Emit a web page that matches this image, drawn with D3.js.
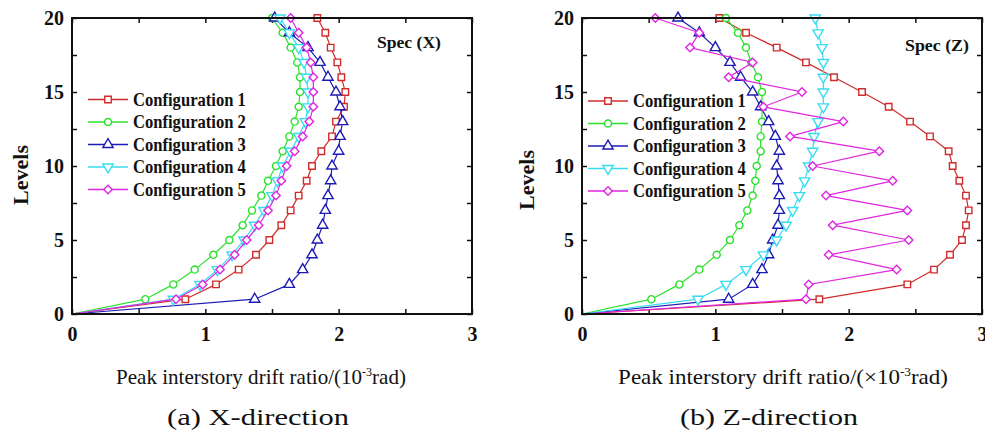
<!DOCTYPE html>
<html>
<head>
<meta charset="utf-8">
<script src="https://cdn.jsdelivr.net/npm/d3@7"></script>
<style>
  body { margin: 0; background: #fff; }
  svg  { display: block; font-family: "Liberation Serif", "Times New Roman", serif; }
</style>
</head>
<body>
<svg id="chart" width="985" height="436"></svg>
<script>
document.addEventListener("DOMContentLoaded", () => {
  "use strict";

  const LEVELS  = [0,1,2,3,4,5,6,7,8,9,10,11,12,13,14,15,16,17,18,19,20];
  const CONFIGS = ["Configuration 1","Configuration 2","Configuration 3","Configuration 4","Configuration 5"];
  const COLORS  = ["#d02c2c","#2ee02e","#1c1cb4","#38dcef","#e026e0"];
  const SHAPES  = ["square","circle","triangle","triangleDown","diamond"];

  // (a) X-direction, drift ratio per level
  const X_CONF1 = [0,0.85,1.08,1.25,1.38,1.48,1.57,1.64,1.70,1.76,1.80,1.87,1.95,1.98,2.04,2.05,2.02,1.99,1.94,1.90,1.84];
  const X_CONF2 = [0,0.55,0.76,0.92,1.06,1.18,1.28,1.35,1.42,1.47,1.53,1.58,1.63,1.67,1.70,1.71,1.71,1.69,1.64,1.58,1.50];
  const X_CONF3 = [0,1.37,1.63,1.73,1.80,1.84,1.88,1.90,1.92,1.94,1.95,2.00,2.01,2.03,2.01,1.98,1.92,1.86,1.77,1.63,1.52];
  const X_CONF4 = [0,0.76,0.96,1.09,1.20,1.29,1.37,1.44,1.50,1.54,1.58,1.64,1.70,1.75,1.77,1.77,1.76,1.74,1.70,1.63,1.56];
  const X_CONF5 = [0,0.78,0.98,1.11,1.22,1.31,1.40,1.47,1.53,1.57,1.61,1.67,1.73,1.78,1.81,1.81,1.81,1.79,1.76,1.70,1.64];

  // (b) Z-direction
  const Z_CONF1 = [0,1.78,2.44,2.64,2.76,2.85,2.88,2.90,2.88,2.83,2.78,2.75,2.61,2.46,2.30,2.10,1.89,1.68,1.46,1.23,1.03];
  const Z_CONF2 = [0,0.52,0.73,0.88,1.01,1.11,1.18,1.24,1.28,1.30,1.31,1.34,1.34,1.35,1.35,1.35,1.32,1.27,1.23,1.17,1.08];
  const Z_CONF3 = [0,1.10,1.28,1.35,1.40,1.43,1.47,1.48,1.48,1.47,1.46,1.48,1.45,1.40,1.34,1.28,1.19,1.11,1.00,0.88,0.72];
  const Z_CONF4 = [0,0.87,1.08,1.23,1.36,1.46,1.53,1.58,1.63,1.67,1.70,1.73,1.74,1.77,1.81,1.81,1.81,1.81,1.80,1.77,1.75];
  const Z_CONF5 = [0,1.68,1.70,2.36,1.85,2.45,1.88,2.44,1.83,2.33,1.73,2.23,1.56,1.96,1.36,1.65,1.10,1.28,0.81,0.88,0.55];

  const X_LABEL_TICKS = [0,1,2,3];
  const X_MARK_TICKS  = [0,0.5,1,1.5,2,2.5,3];
  const Y_LABEL_TICKS = [0,5,10,15,20];
  const Y_MARK_TICKS  = [0,2.5,5,7.5,10,12.5,15,17.5,20];

  const svg = d3.select("#chart");
  svg.append("rect").attr("width", 985).attr("height", 436).attr("fill", "#fff");

  const y = d3.scaleLinear().domain([0, 20]).range([314, 18]);

  function symbolPath(shape) {
    if (shape === "square")       return { d: d3.symbol(d3.symbolSquare, 42)(),   rot: 0 };
    if (shape === "circle")       return { d: d3.symbol(d3.symbolCircle, 40)(),   rot: 0 };
    if (shape === "triangle")     return { d: d3.symbol(d3.symbolTriangle, 46)(), rot: 0 };
    if (shape === "triangleDown") return { d: d3.symbol(d3.symbolTriangle, 46)(), rot: 180 };
    return { d: d3.symbol(d3.symbolSquare, 36)(), rot: 45 };
  }

  // text squeezed/stretched sideways to the width it has in the picture
  function fitText(parent, x, yy, width, anchor, size, weight, build) {
    const g = parent.append("g");
    const t = g.append("text")
      .attr("font-size", size)
      .attr("font-weight", weight)
      .attr("text-anchor", anchor)
      .attr("fill", "#111");
    build(t);
    const w = t.node().getComputedTextLength();
    const sx = width / w;
    g.attr("transform", `translate(${x},${yy}) scale(${sx},1)`);
    return g;
  }

  function drawPanel(opt) {
    const x = d3.scaleLinear().domain([0, 3]).range([opt.x0, opt.x0 + 400]);
    const g = svg.append("g");

    // tick marks, inward on all four sides
    const noLab = a => a.tickFormat("").tickSizeInner(-5).tickSizeOuter(0);
    g.append("g").attr("transform", `translate(0,${y(0)})`).call(noLab(d3.axisBottom(x).tickValues(X_MARK_TICKS)));
    g.append("g").attr("transform", `translate(0,${y(20)})`).call(noLab(d3.axisTop(x).tickValues(X_MARK_TICKS)));
    g.append("g").attr("transform", `translate(${x(0)},0)`).call(noLab(d3.axisLeft(y).tickValues(Y_MARK_TICKS)));
    g.append("g").attr("transform", `translate(${x(3)},0)`).call(noLab(d3.axisRight(y).tickValues(Y_MARK_TICKS)));
    g.selectAll(".domain").remove();
    g.selectAll(".tick line").attr("stroke", "#111").attr("stroke-width", 1.5);

    // tick labels
    g.append("g").attr("class", "xl").attr("transform", `translate(0,${y(0)})`)
      .call(d3.axisBottom(x).tickValues(X_LABEL_TICKS).tickFormat(d3.format("d")).tickSize(0).tickPadding(13));
    g.append("g").attr("class", "yl").attr("transform", `translate(${x(0)},0)`)
      .call(d3.axisLeft(y).tickValues(Y_LABEL_TICKS).tickFormat(d3.format("d")).tickSize(0).tickPadding(8));
    g.selectAll(".xl .domain, .yl .domain").remove();
    g.selectAll(".xl text, .yl text")
      .attr("font-family", "Liberation Serif")
      .attr("font-size", 20).attr("font-weight", "bold").attr("fill", "#111");

    // series
    const line = d3.line().x(d => x(d.v)).y(d => y(d.lvl));
    opt.series.forEach((vals, i) => {
      const pts = LEVELS.map((lvl, k) => ({ lvl, v: vals[k] }));
      g.append("path").datum(pts)
        .attr("d", line).attr("fill", "none")
        .attr("stroke", COLORS[i]).attr("stroke-width", 1.2);
      const sym = symbolPath(SHAPES[i]);
      g.selectAll(null).data(pts.filter(d => d.lvl > 0)).join("path")
        .attr("d", sym.d)
        .attr("transform", d => `translate(${x(d.v)},${y(d.lvl)}) rotate(${sym.rot})`)
        .attr("fill", "#fff").attr("stroke", COLORS[i]).attr("stroke-width", 1.4);
    });

    // frame
    g.append("rect")
      .attr("x", x(0)).attr("y", y(20))
      .attr("width", x(3) - x(0)).attr("height", y(0) - y(20))
      .attr("fill", "none").attr("stroke", "#111").attr("stroke-width", 2);

    // legend
    const leg = g.append("g").attr("transform", `translate(${opt.legX},${opt.legY})`);
    CONFIGS.forEach((name, i) => {
      const ry = i * 22.5;
      leg.append("line").attr("x1", 0).attr("x2", 40).attr("y1", ry).attr("y2", ry)
        .attr("stroke", COLORS[i]).attr("stroke-width", 1.4);
      const sym = symbolPath(SHAPES[i]);
      leg.append("path").attr("d", sym.d)
        .attr("transform", `translate(20,${ry}) rotate(${sym.rot})`)
        .attr("fill", "#fff").attr("stroke", COLORS[i]).attr("stroke-width", 1.4);
      fitText(leg, 45, ry + 6, 113, "start", 18, "bold", t => t.text(name));
    });

    fitText(g, opt.specX, opt.specY, 64, "start", 16, "bold", t => t.text(opt.spec));

    // axis titles
    fitText(g, opt.levX, opt.levY, 64, "middle", 22, "bold", t => t.text("Levels"))
      .attr("transform", `translate(${opt.levX},${opt.levY}) rotate(-90)`);

    fitText(g, opt.titleX, 384, opt.titleW, "middle", 21, "normal", t => {
      t.append("tspan").text(opt.titlePre);
      t.append("tspan").attr("font-size", 12).attr("dy", -8).text("-3");
      t.append("tspan").attr("dy", 8).text("rad)");
    });
    fitText(g, opt.subX, 425, opt.subW, "middle", 24, "normal", t => t.text(opt.sub));
  }

  drawPanel({
    x0: 72, series: [X_CONF1, X_CONF2, X_CONF3, X_CONF4, X_CONF5],
    legX: 88, legY: 99.5, spec: "Spec (X)", specX: 377, specY: 48,
    levX: 28, levY: 175,
    titlePre: "Peak interstory drift ratio/(10", titleX: 261, titleW: 290,
    sub: "(a) X-direction", subX: 258, subW: 182
  });
  drawPanel({
    x0: 582, series: [Z_CONF1, Z_CONF2, Z_CONF3, Z_CONF4, Z_CONF5],
    legX: 588, legY: 101, spec: "Spec (Z)", specX: 905, specY: 51,
    levX: 534, levY: 180,
    titlePre: "Peak interstory drift ratio/(\u00d710", titleX: 783, titleW: 330,
    sub: "(b) Z-direction", subX: 769, subW: 178
  });
});
</script>
</body>
</html>
